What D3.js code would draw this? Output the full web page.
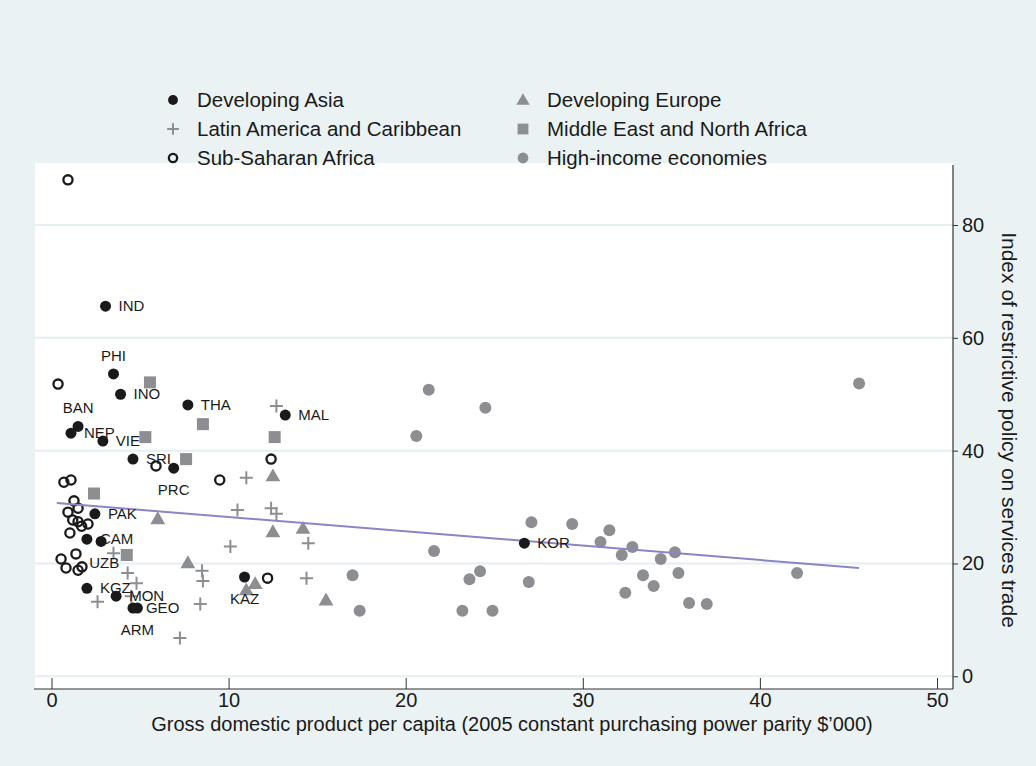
<!DOCTYPE html>
<meta charset="utf-8">
<script src="https://d3js.org/d3.v7.min.js"></script>
<style>
  body { margin: 0; background: #eaf2f3; }
  text { font-family: "Liberation Sans", Arial, sans-serif; fill: #1a1a1a; }
</style>
<svg id="chart" width="1036" height="766"></svg>
<script>
// Developing Asia (labelled economies)
const asiaCodes = ["IND","PHI","INO","THA","MAL","BAN","NEP","VIE","SRI","PRC","PAK","CAM","","KGZ","MON","GEO","ARM","KAZ","KOR"];
const asiaX = [3.05, 3.5, 3.9, 7.7, 13.2, 1.5, 1.1, 2.9, 4.6, 6.9, 2.45, 2.0, 2.8, 2.0, 3.65, 4.6, 4.85, 10.9, 26.7];
const asiaY = [65.6, 53.6, 50.0, 48.1, 46.3, 44.3, 43.1, 41.7, 38.5, 36.9, 28.8, 24.3, 23.9, 15.6, 14.2, 12.1, 12.1, 17.6, 23.6];

// Latin America and Caribbean
const latamX = [12.7, 11.0, 10.5, 12.4, 12.7, 10.1, 14.5, 14.4, 3.5, 4.3, 4.8, 2.6, 8.5, 8.55, 8.4, 7.25, 4.5];
const latamY = [47.9, 35.2, 29.5, 29.8, 28.8, 23.0, 23.6, 17.4, 21.8, 18.3, 16.5, 13.2, 18.7, 16.9, 12.8, 6.8, 14.2];

// Sub-Saharan Africa
const ssaX = [0.93, 0.37, 0.7, 1.1, 5.9, 9.5, 12.4, 12.2, 1.27, 1.5, 0.93, 1.2, 1.5, 1.7, 2.06, 1.04, 0.54, 1.38, 0.82, 1.5, 1.72];
const ssaY = [88.0, 51.8, 34.4, 34.8, 37.3, 34.8, 38.5, 17.4, 31.1, 29.8, 29.1, 27.7, 27.4, 26.6, 27.0, 25.4, 20.8, 21.7, 19.2, 18.8, 19.4];

// Developing Europe
const europeX = [12.5, 6.0, 12.5, 14.2, 7.7, 11.5, 11.0, 15.5];
const europeY = [35.5, 27.9, 25.6, 26.2, 20.1, 16.4, 15.3, 13.5];

// Middle East and North Africa
const menaX = [5.56, 8.55, 5.3, 12.6, 7.6, 2.4, 4.25];
const menaY = [52.1, 44.7, 42.4, 42.4, 38.5, 32.4, 21.5];

// High-income economies
const highX = [45.6, 21.3, 24.5, 20.6, 27.1, 29.4, 31.5, 31.0, 32.2, 32.8, 34.4, 35.2, 35.4, 33.4, 34.0, 32.4, 36.0, 37.0, 42.1, 21.6, 24.2, 23.6, 26.95, 23.2, 24.9, 17.0, 17.4];
const highY = [51.9, 50.8, 47.6, 42.6, 27.3, 27.0, 25.9, 23.8, 21.5, 22.9, 20.8, 22.0, 18.3, 17.9, 16.0, 14.8, 13.0, 12.8, 18.3, 22.2, 18.6, 17.2, 16.7, 11.6, 11.6, 17.9, 11.6];

// fitted line end points
const fitX = [0.3, 45.6];
const fitY = [30.7, 19.2];

// label with no visible marker
const extraLabelText = ["UZB"];
const extraLabelX = [1.4];
const extraLabelY = [20.0];

const xTicks = [0, 10, 20, 30, 40, 50];
const yTicks = [0, 20, 40, 60, 80];

const legendNames = ["Developing Asia", "Developing Europe", "Latin America and Caribbean",
  "Middle East and North Africa", "Sub-Saharan Africa", "High-income economies"];
const legendKinds = ["asia", "europe", "latam", "mena", "ssa", "high"];

// label clock positions (Stata style)
const labelPos = { PHI: 12, BAN: 12, PRC: 6, ARM: 6, KAZ: 6 };

const svg = d3.select("#chart");
const black = "#1a1a1a", grey = "#8d8e92";

const x = d3.scaleLinear().domain([0, 50]).range([51.5, 937]);
const y = d3.scaleLinear().domain([0, 80]).range([676.3, 225]);

// outer background + plot region
svg.append("rect").attr("width", 1036).attr("height", 766).attr("fill", "#eaf2f3");
svg.append("rect").attr("x", 35).attr("y", 163).attr("width", 918).attr("height", 526).attr("fill", "#fff");

// gridlines
svg.append("g").selectAll("line").data(yTicks).join("line")
  .attr("x1", 35).attr("x2", 953)
  .attr("y1", d => y(d)).attr("y2", d => y(d))
  .attr("stroke", "#e5eef1").attr("stroke-width", 2);

// axes
const xAxis = svg.append("g").attr("transform", "translate(0,689)")
  .call(d3.axisBottom(x).tickValues(xTicks).tickSizeInner(-11).tickSizeOuter(0).tickPadding(4));
xAxis.select(".domain").attr("d", "M34,0H953").attr("stroke", "#333").attr("stroke-width", 1.2);
xAxis.selectAll("line").attr("stroke", "#333");
xAxis.selectAll("text").attr("font-size", 20).attr("fill", "#1a1a1a").attr("font-family", "Liberation Sans, Arial");

const yAxis = svg.append("g").attr("transform", "translate(953,0)")
  .call(d3.axisRight(y).tickValues(yTicks).tickSize(5).tickPadding(4));
yAxis.select(".domain").attr("d", "M0,165V689").attr("stroke", "#333").attr("stroke-width", 1.2);
yAxis.selectAll("line").attr("stroke", "#333");
yAxis.selectAll("text").attr("font-size", 20).attr("fill", "#1a1a1a").attr("font-family", "Liberation Sans, Arial");

svg.append("text").attr("x", 512).attr("y", 731).attr("text-anchor", "middle")
  .attr("font-size", 20).text("Gross domestic product per capita (2005 constant purchasing power parity $\u2019000)");
svg.append("text").attr("transform", "translate(1002,430) rotate(90)").attr("text-anchor", "middle")
  .attr("font-size", 21).text("Index of restrictive policy on services trade");

// marker drawing
function marker(g, kind, s) {
  s = s || 1;
  if (kind === "asia") g.append("circle").attr("r", 5.5 * s).attr("fill", black);
  else if (kind === "high") g.append("circle").attr("r", 6 * s).attr("fill", grey);
  else if (kind === "ssa") g.append("circle").attr("r", 4.6 * s).attr("fill", "none").attr("stroke", black).attr("stroke-width", 2.3);
  else if (kind === "mena") g.append("rect").attr("x", -6 * s).attr("y", -6 * s).attr("width", 12 * s).attr("height", 12 * s).attr("fill", grey);
  else if (kind === "europe") g.append("path").attr("d", d3.symbol(d3.symbolTriangle, 95 * s * s)()).attr("transform", "translate(0,1)").attr("fill", grey);
  else if (kind === "latam") g.append("path").attr("d", `M${-6.5*s},0H${6.5*s}M0,${-6.5*s}V${6.5*s}`).attr("stroke", grey).attr("stroke-width", 2);
}

function series(xs, ys, kind) {
  const g = svg.append("g");
  xs.forEach((v, i) => {
    const m = g.append("g").attr("transform", `translate(${x(v)},${y(ys[i])})`);
    marker(m, kind);
  });
}

series(highX, highY, "high");
series(menaX, menaY, "mena");
series(europeX, europeY, "europe");
series(latamX, latamY, "latam");
series(ssaX, ssaY, "ssa");

svg.append("line")
  .attr("x1", x(fitX[0])).attr("y1", y(fitY[0]))
  .attr("x2", x(fitX[1])).attr("y2", y(fitY[1]))
  .attr("stroke", "#8b85c5").attr("stroke-width", 2);

series(asiaX, asiaY, "asia");

// labels
function placeLabel(code, px, py) {
  const pos = labelPos[code] || 3;
  const t = svg.append("text").attr("font-size", 15).text(code);
  if (pos === 3) t.attr("x", px + 13).attr("y", py + 5);
  else if (pos === 12) t.attr("x", px).attr("y", py - 13).attr("text-anchor", "middle");
  else t.attr("x", px).attr("y", py + 27).attr("text-anchor", "middle");
}
asiaCodes.forEach((c, i) => { if (c) placeLabel(c, x(asiaX[i]), y(asiaY[i])); });
extraLabelText.forEach((c, i) => placeLabel(c, x(extraLabelX[i]), y(extraLabelY[i])));

// legend
const leg = svg.append("g");
legendNames.forEach((name, i) => {
  const col = i % 2, row = Math.floor(i / 2);
  const lx = col ? 523 : 173, ly = 100 + row * 29;
  const m = leg.append("g").attr("transform", `translate(${lx},${ly})`);
  marker(m, legendKinds[i], 0.9);
  leg.append("text").attr("x", lx + 24).attr("y", ly + 7).attr("font-size", 20.5).text(name);
});
</script>
